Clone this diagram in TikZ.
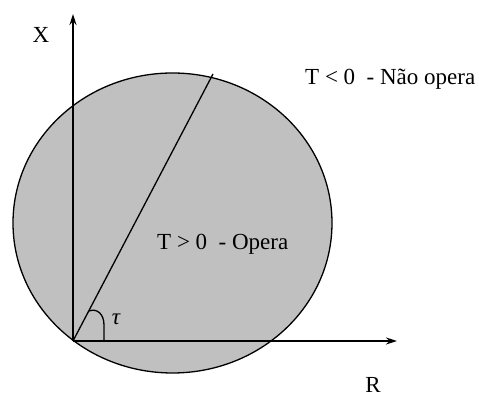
\documentclass[tikz,border=0pt]{standalone}
\usepackage{fontspec}
\setmainfont{Liberation Serif}
\usetikzlibrary{arrows.meta}
\definecolor{discgray}{RGB}{192,192,192}
\tikzset{
  axis/.style={line width=1.6pt, -{Stealth[length=11pt,width=7pt]}},
  lbl/.style={inner sep=0pt, font=\fontsize{23}{26}\selectfont},
  thin line/.style={line width=1.3pt}
}
\begin{document}
\begin{tikzpicture}[x=1pt,y=1pt]
\useasboundingbox (0,0) rectangle (479,398);
\fill[white] (0,0) rectangle (479,398);
\draw[fill=discgray, line width=1.3pt] (172.5,175) ellipse [x radius=159.5, y radius=150];
\coordinate (O) at (73,57);
\coordinate (Ytop) at (73,384);
\coordinate (Xend) at (397,57);
\coordinate (P) at (213,324);
\coordinate (A1) at (104,57);
\coordinate (A2) at (89,87);
\draw[thin line] (O) -- (P);
\draw[thin line] (A1) -- (104,73) .. controls (104,84) and (97,90) .. (A2);
\draw[axis] (O) -- (Ytop);
\draw[axis] (O) -- (Xend);
\node[lbl, anchor=center] (xl) at (41,363) {X};
\node[lbl, anchor=base] (rl) at (373,5) {R};
\node[lbl, anchor=base west] (neg) at (305,313) {T < 0 ~- Não opera};
\node[lbl, anchor=base west] (pos) at (157,148) {T > 0 ~- Opera};
\node[lbl, anchor=center] (tau) at (116,79) {\itshape τ};
\end{tikzpicture}
\end{document}
